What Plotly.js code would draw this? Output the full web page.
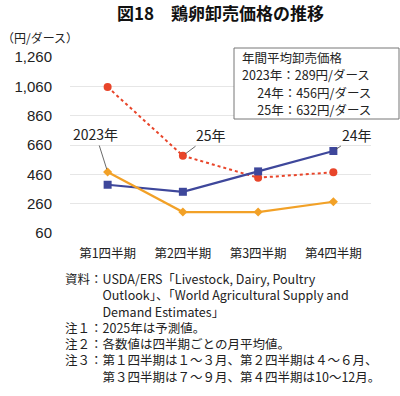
<!DOCTYPE html>
<html><head><meta charset="utf-8">
<script src="https://cdn.plot.ly/plotly-3.0.1.min.js"></script>
<style>html,body{margin:0;padding:0;background:#fff}#c{width:400px;height:396px}</style>
</head><body><div id="c"></div>
<script>
const categories = ["第1四半期","第2四半期","第3四半期","第4四半期"];
const y2023 = [476, 203, 203, 273];
const y2024 = [389, 341, 480, 619];
const y2025 = [1055, 587, 437, 474];
const yTicks = [60, 260, 460, 660, 860, 1060, 1260];
const yTickText = ["60","260","460","660","860","1,060","1,260"];
const boxLines = ["年間平均卸売価格","2023年：289円/ダース","　 24年：456円/ダース","　 25年：632円/ダース"];
const notes = [
  "資料：USDA/ERS「Livestock, Dairy, Poultry",
  "　　　Outlook」、「World Agricultural Supply and",
  "　　　Demand Estimates」",
  "注１：2025年は予測値。",
  "注２：各数値は四半期ごとの月平均値。",
  "注３：第１四半期は１～３月、第２四半期は４～６月、",
  "　　　第３四半期は７～９月、第４四半期は10～12月。"
];
const F = '"Noto Sans CJK JP", "Liberation Sans", sans-serif';
const PX = p => (p - 70) / 301;
const data = [
  {x: categories, y: y2025, type:'scatter', mode:'lines+markers', name:'25年',
   line:{color:'#E8452A', width:2, dash:'dot'}, marker:{symbol:'circle', size:8, color:'#E8452A'}},
  {x: categories, y: y2024, type:'scatter', mode:'lines+markers', name:'24年',
   line:{color:'#3E479B', width:2.2}, marker:{symbol:'square', size:8, color:'#3E479B'}},
  {x: categories, y: y2023, type:'scatter', mode:'lines+markers', name:'2023年',
   line:{color:'#F2A127', width:2.2}, marker:{symbol:'diamond', size:7, color:'#F2A127'}}
];
const annotations = [
  {x:0, y:y2023[0], xref:'x', yref:'y', text:'2023年', showarrow:true, arrowhead:0, arrowwidth:0.8, arrowcolor:'#444', ax:-12, ay:-38, font:{family:F, size:14, color:'#222'}, standoff:3},
  {x:1, y:y2025[1], xref:'x', yref:'y', text:'25年', showarrow:true, arrowhead:0, arrowwidth:0.8, arrowcolor:'#444', ax:28, ay:-21, font:{family:F, size:14, color:'#222'}, standoff:3},
  {x:3, y:y2024[3], xref:'x', yref:'y', text:'24年', showarrow:true, arrowhead:0, arrowwidth:0.8, arrowcolor:'#444', ax:24, ay:-16, font:{family:F, size:14, color:'#222'}, standoff:3},
  {x:0.5, y:1, xref:'paper', yref:'paper', yanchor:'bottom', xanchor:'center', text:'<b>図18　鶏卵卸売価格の推移</b>', showarrow:false, yshift:30, font:{family:F, size:17, color:'#111'}},
  {x:PX(0), y:1, xref:'paper', yref:'paper', xanchor:'left', yanchor:'bottom', text:'（円/ダース）', showarrow:false, yshift:9, xshift:0, font:{family:F, size:12, color:'#222'}},
  {x:PX(63), y:0, xref:'paper', yref:'paper', xanchor:'left', yanchor:'top', align:'left', text:notes.join('<br>'), showarrow:false, yshift:-34, font:{family:F, size:12.5, color:'#222'}}
];
boxLines.forEach((t,i)=>{
  annotations.push({x:PX(240), xref:'paper', yref:'paper', y:1, yanchor:'middle', xanchor:'left',
    text:t, showarrow:false, yshift:-(i*17.5), font:{family:F, size:12.5, color:'#222'}});
});
const layout = {
  width:400, height:396, margin:{l:70, r:29, t:57, b:163},
  paper_bgcolor:'#fff', plot_bgcolor:'#fff', showlegend:false,
  xaxis:{type:'category', range:[-0.5,3.5], showgrid:false, zeroline:false, showline:false, ticks:'',
    ticklabelstandoff:11, tickfont:{family:F, size:12.5, color:'#222'}, fixedrange:true},
  yaxis:{range:[60,1260], tickvals:yTicks, ticktext:yTickText, showgrid:true, gridcolor:'#e6e6e6', gridwidth:1,
    zeroline:false, showline:false, ticks:'', ticklabelstandoff:17, tickfont:{family:'"Liberation Sans", Arial, sans-serif', size:15, color:'#222'}, fixedrange:true},
  shapes:[{type:'rect', xref:'paper', yref:'paper', x0:PX(234), x1:PX(399), y0:1+9/176, y1:1-62/176, line:{color:'#777', width:1}, fillcolor:'#fff', layer:'above'}],
  annotations: annotations
};
Plotly.newPlot('c', data, layout, {staticPlot:true});
</script></body></html>
